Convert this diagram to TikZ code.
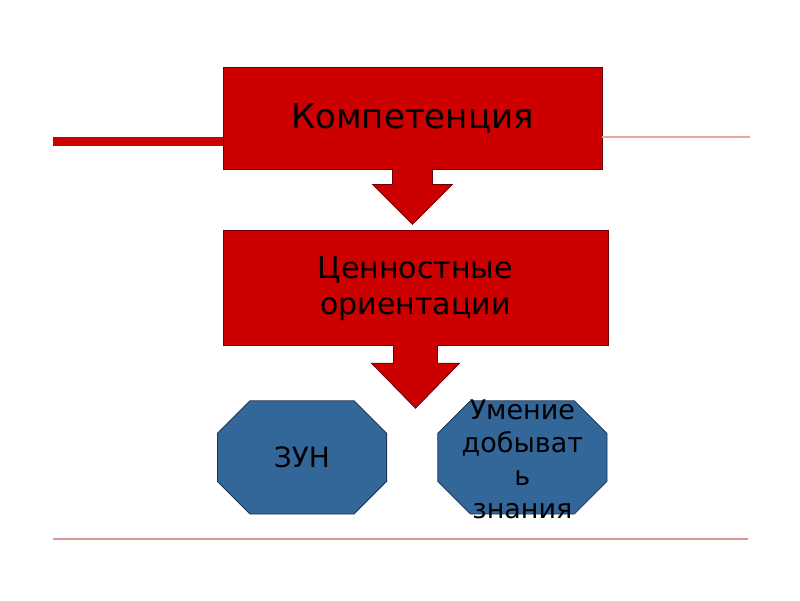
\documentclass[tikz,border=0pt]{standalone}
\usepackage{fontspec}
\setmainfont{DejaVu Sans}
\usetikzlibrary{positioning, calc}
\definecolor{RedA}{HTML}{CC0000}
\definecolor{RedD}{HTML}{6E0000}
\definecolor{RedL}{HTML}{E8A3A3}
\definecolor{BlueA}{HTML}{336699}
\definecolor{BlueD}{HTML}{1E3350}
\definecolor{RuleA}{HTML}{D99694}
\tikzset{
  box/.style={draw=RedD, fill=RedA, align=center, text=black, inner sep=0pt, line width=0.8pt},
  oct/.style={minimum width=170pt, minimum height=114pt, inner sep=0pt,
    path picture={
      \filldraw[fill=BlueA, draw=BlueD, line width=0.8pt]
        ($(path picture bounding box.north west)+(33,0.4)$) -- ($(path picture bounding box.north east)+(-33,0.4)$)
        -- ($(path picture bounding box.north east)+(-0.4,33)$) -- ($(path picture bounding box.south east)+(-0.4,-33)$)
        -- ($(path picture bounding box.south east)+(-33,-0.4)$) -- ($(path picture bounding box.south west)+(33,-0.4)$)
        -- ($(path picture bounding box.south west)+(0.4,-33)$) -- ($(path picture bounding box.north west)+(0.4,33)$) -- cycle;
    }},
  octtxt/.style={align=center, font=\fontsize{27}{33}\selectfont, text=black},
  blockarr/.style={fill=RedA, draw=RedD, line width=0.8pt, line join=miter},
  rule/.style={RuleA, line width=2pt}
}

\begin{document}
\begin{tikzpicture}[x=1pt, y=-1pt]
  \useasboundingbox (0,0) rectangle (800,600);
  \coordinate (lnL) at (53,141.5);
  \coordinate (lnR) at (750,137);
  \coordinate (ruL) at (53,539);
  \coordinate (ruR) at (748,539);

  \node[box, minimum width=379pt, minimum height=102pt, font=\fontsize{34}{40}\selectfont] (komp) at (412.5,118) {Компетенция};
  \node[box, minimum width=385pt, minimum height=115pt, font=\fontsize{30}{36}\selectfont, below=61pt of komp, xshift=3pt] (cen) {Ценностные\\ориентации};
  \node[oct, below=54pt of cen, xshift=-113.5pt, label={[octtxt, font=\fontsize{28}{33}\selectfont]center:ЗУН}] (zun) {};
  \node[oct, right=50pt of zun, label={[octtxt, yshift=-2pt]center:Умение\\добыват\\ь\\знания}] (umen) {};

  \draw[RedA, line width=9pt] (lnL) -- (lnL -| komp.west);
  \draw[RedL, line width=1.5pt] (komp.east |- lnR) -- (lnR);
  \draw[rule] (ruL) -- (ruR);

  \draw[blockarr] ($(komp.south)+(-20,-1)$) -- ++(0,16) -- ++(-20,0) -- ($(komp.south)+(0,55)$)
    -- ($(komp.south)+(40,15)$) -- ++(-20,0) -- ++(0,-16);
  \draw[blockarr] ($(cen.south)+(-22,-1)$) -- ++(0,18) -- ++(-22,0) -- ($(cen.south)+(0,62)$)
    -- ($(cen.south)+(44,17)$) -- ++(-22,0) -- ++(0,-18);
\end{tikzpicture}
\end{document}
